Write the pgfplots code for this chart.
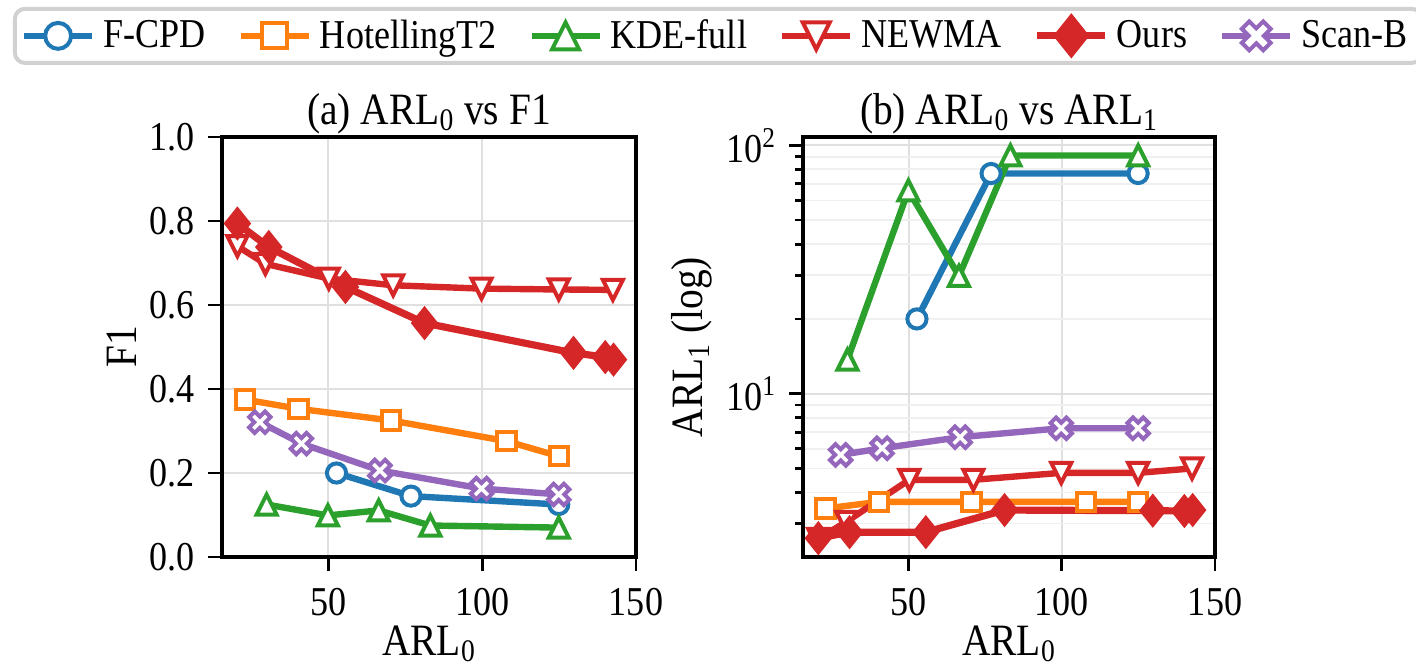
\documentclass[border=0pt]{standalone}
\usepackage{fontspec}
\setmainfont{Liberation Serif}[FakeStretch=0.88]
\usepackage{pgfplots}
\pgfplotsset{compat=1.18}

\definecolor{cblue}{HTML}{1F77B4}
\definecolor{corange}{HTML}{FF7F0E}
\definecolor{cgreen}{HTML}{2CA02C}
\definecolor{cred}{HTML}{D62728}
\definecolor{cpurple}{HTML}{9467BD}

% matplotlib-like marks
\pgfdeclareplotmark{tup}{%
  \pgfpathmoveto{\pgfqpoint{0pt}{\pgfplotmarksize}}%
  \pgfpathlineto{\pgfqpoint{\pgfplotmarksize}{-\pgfplotmarksize}}%
  \pgfpathlineto{\pgfqpoint{-\pgfplotmarksize}{-\pgfplotmarksize}}%
  \pgfpathclose\pgfusepathqfillstroke}
\pgfdeclareplotmark{tdown}{%
  \pgfpathmoveto{\pgfqpoint{0pt}{-\pgfplotmarksize}}%
  \pgfpathlineto{\pgfqpoint{\pgfplotmarksize}{\pgfplotmarksize}}%
  \pgfpathlineto{\pgfqpoint{-\pgfplotmarksize}{\pgfplotmarksize}}%
  \pgfpathclose\pgfusepathqfillstroke}
\pgfdeclareplotmark{dmd}{%
  \pgfpathmoveto{\pgfqpoint{0pt}{\pgfplotmarksize}}%
  \pgfpathlineto{\pgfqpoint{0.8\pgfplotmarksize}{0pt}}%
  \pgfpathlineto{\pgfqpoint{0pt}{-\pgfplotmarksize}}%
  \pgfpathlineto{\pgfqpoint{-0.8\pgfplotmarksize}{0pt}}%
  \pgfpathclose\pgfusepathqfillstroke}
\pgfdeclareplotmark{fatx}{%
  \pgfpathmoveto{\pgfqpoint{-0.46\pgfplotmarksize}{0.955\pgfplotmarksize}}%
  \pgfpathlineto{\pgfqpoint{0pt}{0.495\pgfplotmarksize}}%
  \pgfpathlineto{\pgfqpoint{0.46\pgfplotmarksize}{0.955\pgfplotmarksize}}%
  \pgfpathlineto{\pgfqpoint{0.955\pgfplotmarksize}{0.46\pgfplotmarksize}}%
  \pgfpathlineto{\pgfqpoint{0.495\pgfplotmarksize}{0pt}}%
  \pgfpathlineto{\pgfqpoint{0.955\pgfplotmarksize}{-0.46\pgfplotmarksize}}%
  \pgfpathlineto{\pgfqpoint{0.46\pgfplotmarksize}{-0.955\pgfplotmarksize}}%
  \pgfpathlineto{\pgfqpoint{0pt}{-0.495\pgfplotmarksize}}%
  \pgfpathlineto{\pgfqpoint{-0.46\pgfplotmarksize}{-0.955\pgfplotmarksize}}%
  \pgfpathlineto{\pgfqpoint{-0.955\pgfplotmarksize}{-0.46\pgfplotmarksize}}%
  \pgfpathlineto{\pgfqpoint{-0.495\pgfplotmarksize}{0pt}}%
  \pgfpathlineto{\pgfqpoint{-0.955\pgfplotmarksize}{0.46\pgfplotmarksize}}%
  \pgfpathclose\pgfusepathqfillstroke}

\pgfplotsset{
  panel/.style={
    scale only axis, width=207pt, height=210pt,
    xmin=15.5, xmax=150, xtick={50,100,150},
    axis line style={line width=1.6pt},
    tick style={line width=1.4pt, black},
    major tick length=7pt, minor tick length=4pt,
    tick align=outside, tick pos=left,
    xmajorgrids, ymajorgrids,
    major grid style={black!12, line width=0.9pt},
    /pgf/number format/assume math mode=true,
    tick label style={font=\fontsize{20.5}{22}\selectfont},
    xticklabel style={yshift=-5pt},
    yticklabel style={xshift=-3pt},
    label style={font=\fontsize{22.4}{24}\selectfont},
    xlabel style={yshift=2pt},
    title style={font=\fontsize{22.4}{24}\selectfont, yshift=-8pt},
    xlabel={ARL\textsubscript{0}},
    legend image code/.code={\draw[mark repeat=2,mark phase=2,
      /tikz/every mark/.append style={scale=1.35}]
      plot coordinates {(0pt,0pt) (17pt,0pt) (34pt,0pt)};},
  },
  fcpd/.style={cblue, line width=3.2pt, mark=*, mark size=4.8pt,
    mark options={fill=white, line width=2pt}},
  hot/.style={corange, line width=3.2pt, mark=square*, mark size=4.6pt,
    mark options={fill=white, line width=2pt}},
  kde/.style={cgreen, line width=3.2pt, mark=tup, mark size=5pt,
    mark options={fill=white, line width=2pt, line join=miter}},
  newma/.style={cred, line width=3.2pt, mark=tdown, mark size=5pt,
    mark options={fill=white, line width=2pt, line join=miter}},
  ours/.style={cred, line width=3.6pt, mark=dmd, mark size=7.8pt,
    mark options={fill=cred, line width=1pt}},
  scanb/.style={cpurple, line width=3.2pt, mark=fatx, mark size=5.6pt,
    mark options={fill=white, line width=2pt}},
}

\begin{document}
\begin{tikzpicture}
% 1 px of the reference = 0.5 pt
\begin{axis}[panel, at={(111pt,54.5pt)}, anchor=south west,
  ymin=0, ymax=1, ytick={0,0.2,...,1.0},
  yticklabel style={/pgf/number format/.cd, fixed, fixed zerofill, precision=1},
  ylabel={F1}, title={(a) ARL\textsubscript{0} vs F1},
  legend columns=6,
  legend style={at={(-0.505,1.31)}, anchor=north west,
    draw=black!18, line width=2pt, rounded corners=5pt,
    font=\fontsize{20.5}{22}\selectfont, inner xsep=3pt, inner ysep=3pt,
    nodes={inner xsep=4pt},
    /tikz/every even column/.append style={column sep=12pt}},
]
\addplot[fcpd] coordinates {(52.7,0.200) (76.9,0.145) (124.9,0.125)};
\addlegendentry{F-CPD}
\addplot[hot] coordinates {(22.9,0.375) (40.3,0.353) (70.5,0.325) (107.9,0.276) (124.9,0.240)};
\addlegendentry{HotellingT2}
\addplot[kde] coordinates {(30.0,0.125) (49.9,0.099) (66.4,0.111) (83.2,0.075) (124.9,0.070)};
\addlegendentry{KDE-full}
\addplot[newma] coordinates {(20.5,0.740) (29.6,0.698) (50.2,0.663) (71.1,0.647) (99.8,0.639) (124.9,0.637) (142.5,0.636)};
\addlegendentry{NEWMA}
\addplot[ours] coordinates {(20.5,0.794) (30.7,0.738) (55.6,0.643) (81.3,0.557) (129.7,0.486) (140.0,0.476) (142.7,0.470)};
\addlegendentry{Ours}
\addplot[scanb] coordinates {(27.8,0.321) (41.3,0.270) (66.8,0.206) (99.8,0.163) (124.9,0.149)};
\addlegendentry{Scan-B}
\end{axis}

\begin{axis}[panel, at={(401.5pt,54.5pt)}, anchor=south west, width=206pt,
  ymode=log, ymin=2.2, ymax=108,
  ytick={10,100}, yticklabels={10\textsuperscript{1},10\textsuperscript{2}},
  minor ytick={3,4,5,6,7,8,9,20,30,40,50,60,70,80,90},
  yminorgrids, minor grid style={black!6, line width=0.9pt},
  ylabel={ARL\textsubscript{1} (log)}, title={(b) ARL\textsubscript{0} vs ARL\textsubscript{1}},
]
\addplot[fcpd] coordinates {(52.7,20.0) (76.9,77.0) (124.9,77.0)};
\addplot[hot] coordinates {(22.9,3.45) (40.3,3.67) (70.5,3.67) (107.9,3.67) (124.9,3.67)};
\addplot[kde] coordinates {(30.0,13.7) (49.9,65.8) (66.4,29.8) (83.2,91.0) (124.9,91.0)};
\addplot[newma] coordinates {(20.5,2.6) (29.6,3.05) (50.2,4.5) (71.1,4.5) (99.8,4.8) (124.9,4.8) (142.5,5.0)};
\addplot[ours] coordinates {(20.5,2.62) (30.7,2.77) (55.6,2.77) (81.3,3.40) (129.7,3.38) (140.0,3.37) (142.7,3.40)};
\addplot[scanb] coordinates {(27.8,5.67) (41.3,6.03) (66.8,6.68) (99.8,7.26) (124.9,7.26)};
\end{axis}
\pgfresetboundingbox
\useasboundingbox (0,0) rectangle (708pt,333pt);
\end{tikzpicture}
\end{document}
